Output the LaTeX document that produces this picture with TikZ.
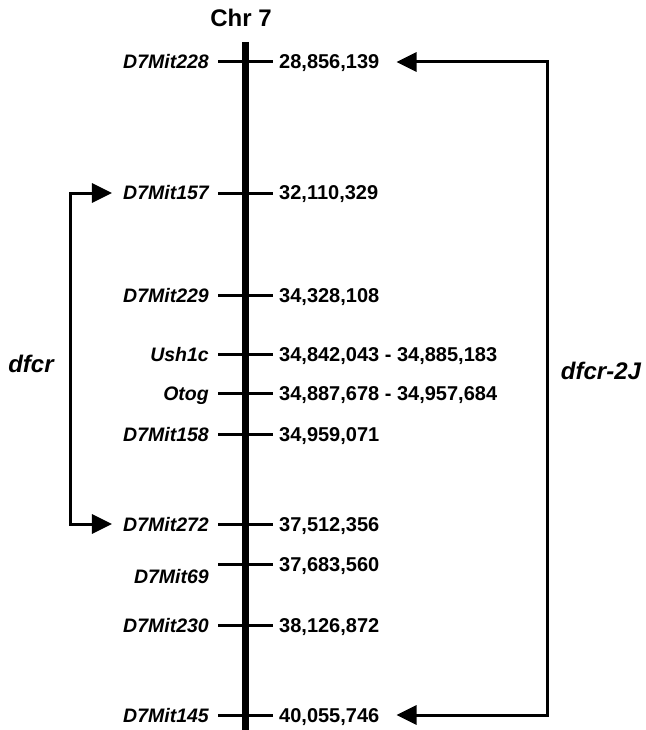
\documentclass[tikz,border=0pt]{standalone}
\usepackage{fontspec}
\setmainfont{Liberation Sans}
\usetikzlibrary{arrows.meta,calc}
\begin{document}
\begin{tikzpicture}[x=1pt,y=-1pt,
  lab/.style={font=\fontsize{19.5}{19.5}\selectfont\bfseries\itshape, inner sep=0pt, anchor=base east},
  num/.style={font=\fontsize{20}{20}\selectfont\bfseries, inner sep=0pt, anchor=base west},
  tickline/.style={line width=3pt},
  chrbar/.style={line width=7pt},
  brk/.style={line width=3pt, {Triangle[length=20pt,width=19pt]}-{Triangle[length=20pt,width=19pt]}},
  big/.style={font=\fontsize{24}{24}\selectfont\bfseries\itshape, inner sep=0pt}]
\useasboundingbox (0,0) rectangle (645,730);
\node[font=\fontsize{24}{24}\selectfont\bfseries, inner sep=0pt] (chr) at (241,18) {Chr 7};
\draw[chrbar] (245.5,42) -- (245.5,730);
\foreach \id/\y/\ly/\name/\val in {
  228/62/62/D7Mit228/{28,856,139},
  157/193/193/D7Mit157/{32,110,329},
  229/295/295/D7Mit229/{34,328,108},
  ush/354/354/Ush1c/{34,842,043 - 34,885,183},
  otog/393/393/Otog/{34,887,678 - 34,957,684},
  158/434/434/D7Mit158/{34,959,071},
  272/524/524/D7Mit272/{37,512,356},
  69/564/576/D7Mit69/{37,683,560},
  230/625/625/D7Mit230/{38,126,872},
  145/715/715/D7Mit145/{40,055,746}}{
  \coordinate (t\id) at (245.5,\y);
  \node[lab] (l\id) at (209,\ly+7) {\name};
  \node[num] (n\id) at (279,\y+7) {\val};
  \draw[tickline] (218,\y) -- (273,\y);
}
\draw[brk] ($(l157.west |- t157)+(-11,0)$) -| (70.7,360) |- ($(l272.west |- t272)+(-11,0)$);
\draw[brk] ($(n228.east |- t228)+(17,0)$) -| (547,400) |- ($(n145.east |- t145)+(17,0)$);
\node[big] (dfcr) at (31,364) {dfcr};
\node[big] (dfcr2j) at (601,371) {dfcr-2J};
\end{tikzpicture}
\end{document}
